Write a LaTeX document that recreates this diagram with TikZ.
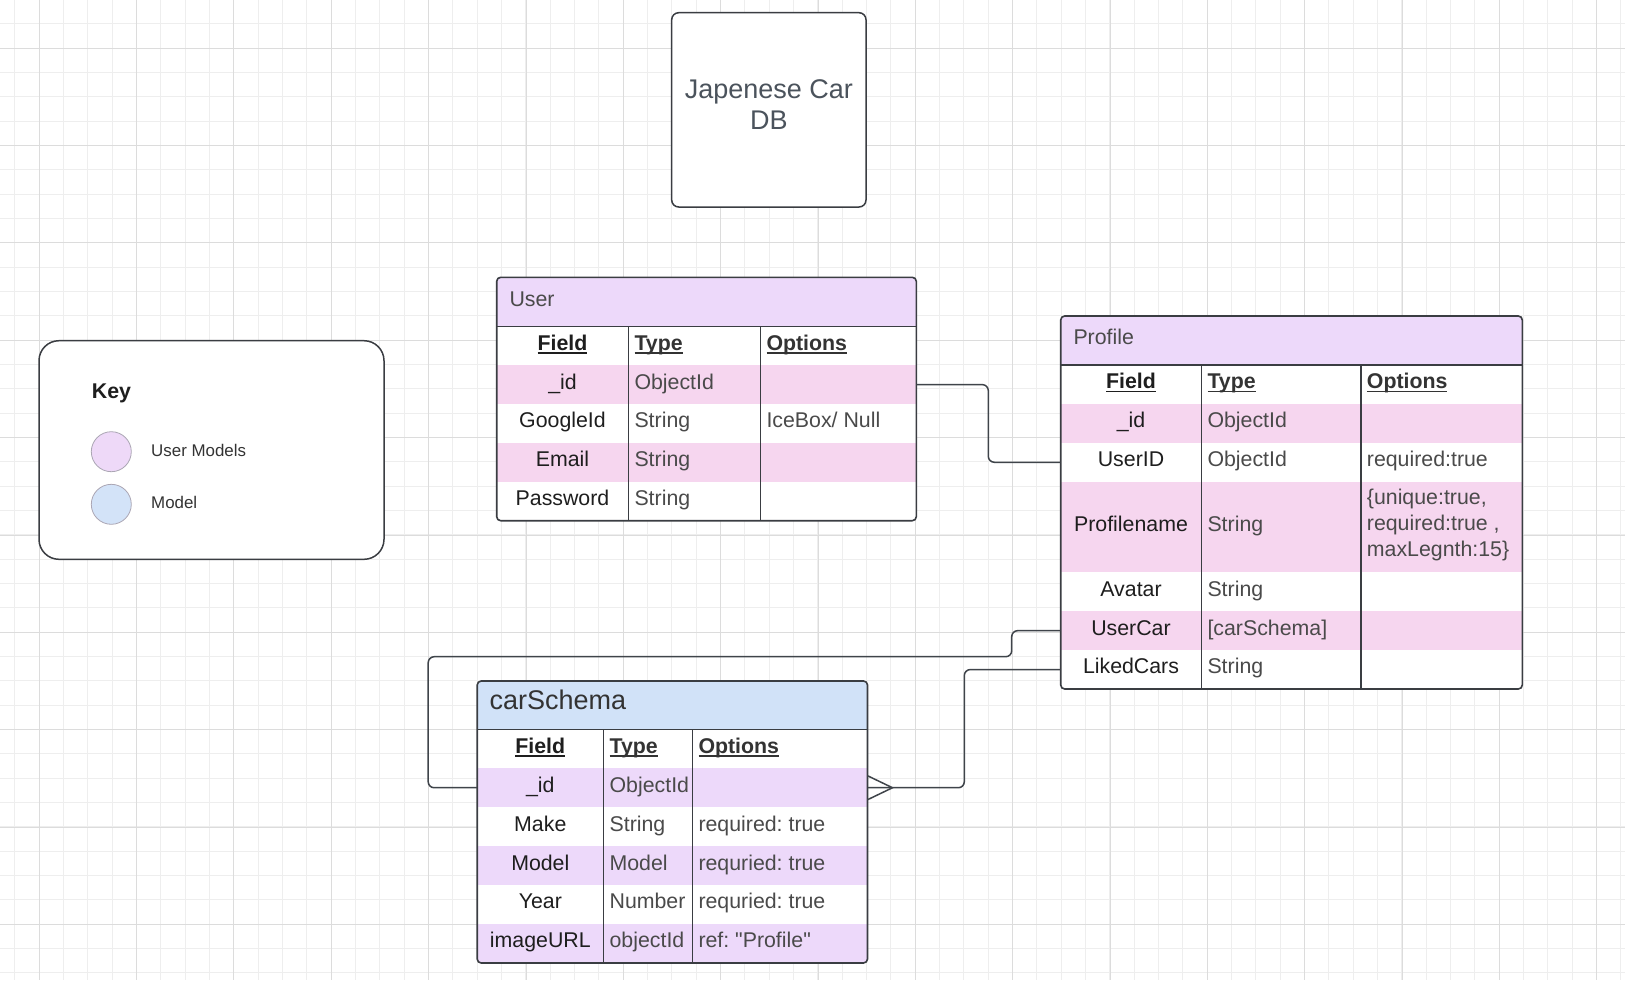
\documentclass[tikz,border=0pt]{standalone}
\usepackage{fontspec}
\setmainfont{Liberation Sans}[Ligatures=TeXOff]
\usetikzlibrary{calc}
\frenchspacing
\definecolor{gridminor}{HTML}{EEEEEE}
\definecolor{gridmajor}{HTML}{DCDCDC}
\definecolor{lav}{HTML}{EDD9FA}
\definecolor{pinkrow}{HTML}{F6D6EF}
\definecolor{bluehead}{HTML}{D1E2F8}
\definecolor{tblborder}{HTML}{3A3D42}
\definecolor{conncol}{HTML}{3F444A}
\definecolor{fieldtxt}{HTML}{1E1E1E}
\definecolor{typetxt}{HTML}{4A4A4A}
\definecolor{headtxt}{HTML}{333333}
\definecolor{titletxt}{HTML}{4B535C}
\definecolor{lavcircle}{HTML}{EED9F8}
\definecolor{bluecircle}{HTML}{D3E3F8}
\definecolor{circleborder}{HTML}{ABA6B4}
\newcommand\tf{\fontsize{21.33}{26}\selectfont\frenchspacing}
\newcommand\myul[1]{\setbox0=\hbox{#1}\rlap{\rule[-3.4pt]{\wd0}{1.6pt}}\box0}
\tikzset{
  rowbox/.style={rectangle, inner sep=0pt, outer sep=0pt, draw=none},
  tframe/.style={rectangle, rounded corners=4pt, draw=tblborder, line width=1.6pt, inner sep=0pt, outer sep=0pt},
  tline/.style={draw=tblborder, line width=1.6pt},
  fcell/.style={font=\tf, text=fieldtxt, text height=15.3pt, text depth=6.5pt, inner sep=0pt, anchor=center},
  tcell/.style={font=\tf, text=typetxt, text height=15.3pt, text depth=6.5pt, inner sep=0pt, anchor=west},
  fhead/.style={fcell, font=\tf\bfseries},
  thead/.style={tcell, font=\tf\bfseries, text=headtxt},
  htitle/.style={tcell, anchor=west},
  conn/.style={draw=conncol, line width=1.5pt, rounded corners=6pt},
  keylabel/.style={font=\fontsize{16.9}{20}\selectfont, text=headtxt, inner sep=0pt, anchor=west},
}
\begin{document}
\begin{tikzpicture}[x=1pt,y=-1pt]
\useasboundingbox (0,0) rectangle (1625,980);
\fill[white] (0,0) rectangle (1625,980);
% grid
\begin{scope}
\clip (0,0) rectangle (1625,980);
\foreach \i in {-1,...,65} \draw[gridminor, line width=1pt] ({39.33+24.333*\i},0) -- ++(0,980);
\foreach \i in {-2,...,39} \draw[gridminor, line width=1pt] (0,{48.33+24.333*\i}) -- ++(1625,0);
\foreach \i in {0,...,16} \draw[gridmajor, line width=1pt] ({39.33+97.333*\i},0) -- ++(0,980);
\foreach \i in {0,...,9} \draw[gridmajor, line width=1pt] (0,{48.33+97.333*\i}) -- ++(1625,0);
\end{scope}

% title
\node[rectangle, rounded corners=7pt, draw=tblborder, line width=1.5pt, fill=white, minimum width=194.3pt, minimum height=194.3pt, inner sep=0pt] (titlebox) at (768.85,109.85) {};
\node[font=\fontsize{27}{31}\selectfont, text=titletxt, align=center, inner sep=0pt] (title) at (768.85,104.2) {Japenese Car\\DB};

% key
\node[rectangle, rounded corners=20pt, draw=tblborder, line width=1.5pt, fill=white, minimum width=345pt, minimum height=218.6pt, inner sep=0pt] (keybox) at (211.5,450) {};
\node[anchor=base west, font=\tf\bfseries, text=fieldtxt, inner sep=0pt] (keytitle) at (91.7,398) {Key};
\node[circle, minimum size=40pt, inner sep=0pt, fill=lavcircle, draw=circleborder, line width=0.8pt] (keyuser) at (111.3,451.7) {};
\node[circle, minimum size=40pt, inner sep=0pt, fill=bluecircle, draw=circleborder, line width=0.8pt] (keymodel) at (111.3,504.3) {};
\node[keylabel] (keyuserlbl) at (151,450) {User Models};
\node[keylabel] (keymodellbl) at (151,502.3) {Model};

% ================= User table
\begin{scope}
\clip[rounded corners=4pt] (496.7,277.3) rectangle (916.3,520.7);
\fill[white] (496.7,277.3) rectangle (916.3,520.7);
\node[rowbox, fill=lav, minimum width=419.6pt, minimum height=49pt] (userhead) at (706.5,301.8) {};
\node[rowbox, minimum width=419.6pt, minimum height=38.88pt] (u-h) at (706.5,345.74) {};
\node[rowbox, fill=pinkrow, minimum width=419.6pt, minimum height=38.88pt] (u-id) at (706.5,384.62) {};
\node[rowbox, minimum width=419.6pt, minimum height=38.88pt] (u-gid) at (706.5,423.5) {};
\node[rowbox, fill=pinkrow, minimum width=419.6pt, minimum height=38.88pt] (u-email) at (706.5,462.38) {};
\node[rowbox, minimum width=419.6pt, minimum height=38.88pt] (u-pw) at (706.5,501.26) {};
\end{scope}
\node[tframe, minimum width=419.6pt, minimum height=243.4pt] (user) at (706.5,399) {};
\draw[tline] (496.7,326.3) -- (916.3,326.3);
\draw[tline] (628.3,326.3) -- (628.3,520.7);
\draw[tline] (760.3,326.3) -- (760.3,520.7);
\node[htitle, text=typetxt] (userheadtxt) at (509.3,301.8) {User};
\node[fhead] (u-h1) at (562.5,345.74) {\myul{Field}};
\node[thead] (u-h2) at (634.3,345.74) {\myul{Type}};
\node[thead] (u-h3) at (766.3,345.74) {\myul{Options}};
\node[fcell] (u-f1) at (562.5,384.62) {\_id};
\node[tcell] (u-t1) at (634.3,384.62) {ObjectId};
\node[fcell] (u-f2) at (562.5,423.5) {GoogleId};
\node[tcell] (u-t2) at (634.3,423.5) {String};
\node[tcell] (u-o2) at (766.3,423.5) {IceBox/ Null};
\node[fcell] (u-f3) at (562.5,462.38) {Email};
\node[tcell] (u-t3) at (634.3,462.38) {String};
\node[fcell] (u-f4) at (562.5,501.26) {Password};
\node[tcell] (u-t4) at (634.3,501.26) {String};

% ================= Profile table
\begin{scope}
\clip[rounded corners=4pt] (1060.7,316) rectangle (1522.3,689);
\fill[white] (1060.7,316) rectangle (1522.3,689);
\node[rowbox, fill=lav, minimum width=461.6pt, minimum height=49pt] (profhead) at (1291.5,340.5) {};
\node[rowbox, minimum width=461.6pt, minimum height=38.9pt] (p-h) at (1291.5,384.45) {};
\node[rowbox, fill=pinkrow, minimum width=461.6pt, minimum height=38.9pt] (p-id) at (1291.5,423.35) {};
\node[rowbox, minimum width=461.6pt, minimum height=38.9pt] (p-userid) at (1291.5,462.25) {};
\node[rowbox, fill=pinkrow, minimum width=461.6pt, minimum height=90.6pt] (p-pname) at (1291.5,527) {};
\node[rowbox, minimum width=461.6pt, minimum height=38.9pt] (p-avatar) at (1291.5,591.75) {};
\node[rowbox, fill=pinkrow, minimum width=461.6pt, minimum height=38.9pt] (p-usercar) at (1291.5,630.65) {};
\node[rowbox, minimum width=461.6pt, minimum height=38.9pt] (p-liked) at (1291.5,669.55) {};
\end{scope}
\node[tframe, minimum width=461.6pt, minimum height=373pt] (profile) at (1291.5,502.5) {};
\draw[tline] (1060.7,365) -- (1522.3,365);
\draw[tline] (1201.3,365) -- (1201.3,689);
\draw[tline] (1360.7,365) -- (1360.7,689);
\node[htitle, text=typetxt] (profheadtxt) at (1073.3,340.5) {Profile};
\node[fhead] (p-h1) at (1131,384.45) {\myul{Field}};
\node[thead] (p-h2) at (1207.3,384.45) {\myul{Type}};
\node[thead] (p-h3) at (1366.7,384.45) {\myul{Options}};
\node[fcell] (p-f1) at (1131,423.35) {\_id};
\node[tcell] (p-t1) at (1207.3,423.35) {ObjectId};
\node[fcell] (p-f2) at (1131,462.25) {UserID};
\node[tcell] (p-t2) at (1207.3,462.25) {ObjectId};
\node[tcell] (p-o2) at (1366.7,462.25) {required:true};
\node[fcell] (p-f3) at (1131,527) {Profilename};
\node[tcell] (p-t3) at (1207.3,527) {String};
\node[font=\tf, text=typetxt, inner sep=0pt, anchor=west, align=left] (p-o3) at (1366.7,525.3) {\{unique:true,\\required:true ,\\maxLegnth:15\}};
\node[fcell] (p-f4) at (1131,591.75) {Avatar};
\node[tcell] (p-t4) at (1207.3,591.75) {String};
\node[fcell] (p-f5) at (1131,630.65) {UserCar};
\node[tcell] (p-t5) at (1207.3,630.65) {[carSchema]};
\node[fcell] (p-f6) at (1131,669.55) {LikedCars};
\node[tcell] (p-t6) at (1207.3,669.55) {String};

% ================= carSchema table
\begin{scope}
\clip[rounded corners=4pt] (477.2,681) rectangle (867.5,963);
\fill[white] (477.2,681) rectangle (867.5,963);
\node[rowbox, fill=bluehead, minimum width=390.3pt, minimum height=48.3pt] (carhead) at (672.35,705.15) {};
\node[rowbox, minimum width=390.3pt, minimum height=38.95pt] (c-h) at (672.35,748.78) {};
\node[rowbox, fill=lav, minimum width=390.3pt, minimum height=38.95pt] (c-id) at (672.35,787.73) {};
\node[rowbox, minimum width=390.3pt, minimum height=38.95pt] (c-make) at (672.35,826.68) {};
\node[rowbox, fill=lav, minimum width=390.3pt, minimum height=38.95pt] (c-model) at (672.35,865.63) {};
\node[rowbox, minimum width=390.3pt, minimum height=38.95pt] (c-year) at (672.35,904.58) {};
\node[rowbox, fill=lav, minimum width=390.3pt, minimum height=38.95pt] (c-img) at (672.35,943.53) {};
\end{scope}
\node[tframe, minimum width=390.3pt, minimum height=282pt] (carschema) at (672.35,822) {};
\draw[tline] (477.2,729.3) -- (867.5,729.3);
\draw[tline] (603.4,729.3) -- (603.4,963);
\draw[tline] (692.3,729.3) -- (692.3,963);
\node[font=\fontsize{27}{31}\selectfont, text=headtxt, text height=19.3pt, text depth=9.7pt, inner sep=0pt, anchor=west] (carheadtxt) at (489.4,705.15) {carSchema};
\node[fhead] (c-h1) at (540.3,748.78) {\myul{Field}};
\node[thead] (c-h2) at (609.4,748.78) {\myul{Type}};
\node[thead] (c-h3) at (698.3,748.78) {\myul{Options}};
\node[fcell] (c-f1) at (540.3,787.73) {\_id};
\node[tcell] (c-t1) at (609.4,787.73) {ObjectId};
\node[fcell] (c-f2) at (540.3,826.68) {Make};
\node[tcell] (c-t2) at (609.4,826.68) {String};
\node[tcell] (c-o2) at (698.3,826.68) {required: true};
\node[fcell] (c-f3) at (540.3,865.63) {Model};
\node[tcell] (c-t3) at (609.4,865.63) {Model};
\node[tcell] (c-o3) at (698.3,865.63) {requried: true};
\node[fcell] (c-f4) at (540.3,904.58) {Year};
\node[tcell] (c-t4) at (609.4,904.58) {Number};
\node[tcell] (c-o4) at (698.3,904.58) {requried: true};
\node[fcell] (c-f5) at (540.3,943.53) {imageURL};
\node[tcell] (c-t5) at (609.4,943.53) {objectId};
\node[tcell] (c-o5) at (698.3,943.53) {ref: "Profile"};

% ================= connectors
\draw[conn] (u-id.east) -- ++(72,0) |- (p-userid.west);
\draw[conn] (p-usercar.west) -- ++(-49,0) |- (428.2,656.7) |- (c-id.west);
\draw[conn] (p-liked.west) -- ++(-96.4,0) |- (c-id.east);
\coordinate (crow) at ($(c-id.east)+(25,0)$);
\draw[draw=conncol, line width=1.5pt] ($(c-id.east)+(0,-12)$) -- (crow) -- ($(c-id.east)+(0,12)$);
\end{tikzpicture}
\end{document}
